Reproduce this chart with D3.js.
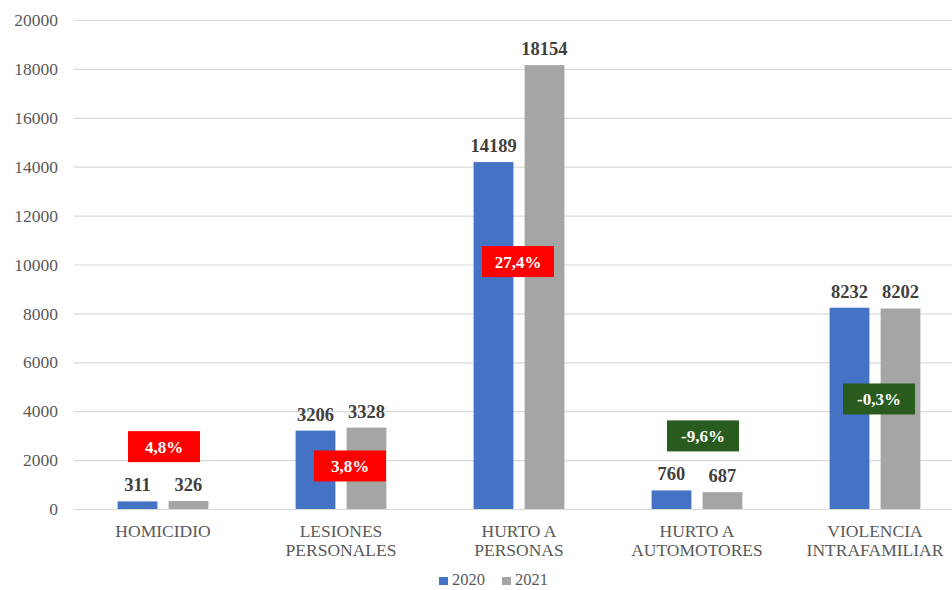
<!DOCTYPE html>
<html>
<head>
<meta charset="utf-8">
<script src="https://cdn.jsdelivr.net/npm/d3@7"></script>
</head>
<body style="margin:0; background:#fff">
<div id="chart-area"></div>
<script>
// data
var categories = [["HOMICIDIO"], ["LESIONES", "PERSONALES"], ["HURTO A", "PERSONAS"], ["HURTO A", "AUTOMOTORES"], ["VIOLENCIA", "INTRAFAMILIAR"]];
var years = ["2020", "2021"];
var values2020 = [311, 3206, 14189, 760, 8232];
var values2021 = [326, 3328, 18154, 687, 8202];
var pctLabels = ["4,8%", "3,8%", "27,4%", "-9,6%", "-0,3%"];
var pctAt = [2550, 1760, 10120, 2990, 4500];   // where the change boxes sit, in data units
var yTicks = [0, 2000, 4000, 6000, 8000, 10000, 12000, 14000, 16000, 18000, 20000];

const svgWidth = 952;
const svgHeight = 590;
var margin = {left:74, right:-12, top:20, bottom:81};
var FONT = "'Liberation Serif', 'Times New Roman', Tinos, serif";

var chartWidth = svgWidth - margin.left - margin.right,
    chartHeight = svgHeight - margin.top - margin.bottom;

var colors = {"2020": "#4472C4", "2021": "#A5A5A5"};

var svg = d3.select("#chart-area")
    .append("svg")
        .attr("width", svgWidth)
        .attr("height", svgHeight)
        .style("font-family", FONT)
    .append("g")
    .attr("transform", "translate("+margin.left+","+margin.top+")");

var data = categories.map(function(c, i){
    return {key: i, name: c, v: [values2020[i], values2021[i]], pct: pctLabels[i], at: pctAt[i]};
});

var x0 = d3.scaleBand()
    .domain(data.map(function(d){ return d.key; }))
    .range([0, chartWidth])
    .paddingInner(0.49)
    .paddingOuter(0.245);

var x1 = d3.scaleBand()
    .domain(years)
    .range([0, x0.bandwidth()])
    .paddingInner(0.22);

var y = d3.scaleLinear()
    .domain([0, 20000])
    .range([chartHeight, 0]);

// gridlines + y labels
var yAxis = svg.append("g")
    .call(d3.axisLeft(y).tickValues(yTicks).tickSize(-chartWidth).tickPadding(16).tickFormat(d3.format("d")));
yAxis.attr("font-family", null).style("font-family", FONT);
yAxis.select(".domain").remove();
yAxis.selectAll("line").attr("stroke", "#d9d9d9").attr("stroke-width", 1.2);
yAxis.selectAll("text")
    .style("font-family", FONT)
    .style("font-size", "17.5px")
    .attr("fill", "#595959");

// x labels
var xg = svg.append("g").attr("transform", "translate(0,"+chartHeight+")");
data.forEach(function(d){
    var t = xg.append("text")
        .attr("x", x0(d.key) + x0.bandwidth()/2)
        .attr("y", 28)
        .attr("text-anchor", "middle")
        .style("font-family", FONT)
        .style("font-size", "17.5px")
        .attr("fill", "#595959");
    d.name.forEach(function(line, j){
        t.append("tspan")
            .attr("x", x0(d.key) + x0.bandwidth()/2)
            .attr("dy", j === 0 ? 0 : 19)
            .text(line);
    });
});

// bars
var groups = svg.selectAll(".grp")
    .data(data)
    .enter().append("g")
    .attr("class", "grp")
    .attr("transform", function(d){ return "translate("+x0(d.key)+",0)"; });

groups.selectAll("rect")
    .data(function(d){ return years.map(function(yr, j){ return {year: yr, value: d.v[j]}; }); })
    .enter().append("rect")
    .attr("x", function(d){ return x1(d.year); })
    .attr("y", function(d){ return y(d.value); })
    .attr("width", x1.bandwidth())
    .attr("height", function(d){ return chartHeight - y(d.value); })
    .attr("fill", function(d){ return colors[d.year]; });

groups.selectAll(".val")
    .data(function(d){ return years.map(function(yr, j){ return {year: yr, value: d.v[j]}; }); })
    .enter().append("text")
    .attr("class", "val")
    .attr("x", function(d){ return x1(d.year) + x1.bandwidth()/2; })
    .attr("y", function(d){ return y(d.value) - 10; })
    .attr("text-anchor", "middle")
    .style("font-family", FONT)
    .style("font-size", "18.5px")
    .style("font-weight", "bold")
    .attr("fill", "#404040")
    .text(function(d){ return d.value; });

// change boxes
var boxW = 72, boxH = 31;
var offs = [1, 9, -1, 6, 4];
data.forEach(function(d, i){
    var cx = x0(d.key) + x0.bandwidth()/2 + offs[i];
    var cy = y(d.at);
    var neg = d.pct.charAt(0) === "-";
    svg.append("rect")
        .attr("x", cx - boxW/2)
        .attr("y", cy - boxH/2)
        .attr("width", boxW)
        .attr("height", boxH)
        .attr("fill", neg ? "#2A5B1E" : "#FF0000");
    svg.append("text")
        .attr("x", cx)
        .attr("y", cy + 6)
        .attr("text-anchor", "middle")
        .style("font-family", FONT)
        .style("font-size", "17px")
        .style("font-weight", "bold")
        .attr("fill", "#fff")
        .text(d.pct);
});

// legend
var legend = svg.append("g").attr("transform", "translate(0,"+(chartHeight+76)+")");
var lx = [365, 428];
years.forEach(function(yr, i){
    legend.append("rect")
        .attr("x", lx[i]).attr("y", -8)
        .attr("width", 9).attr("height", 8)
        .attr("fill", colors[yr]);
    legend.append("text")
        .attr("x", lx[i] + 13).attr("y", 0)
        .style("font-family", FONT)
        .style("font-size", "16.5px")
        .attr("fill", "#595959")
        .text(yr);
});
</script>
</body>
</html>
